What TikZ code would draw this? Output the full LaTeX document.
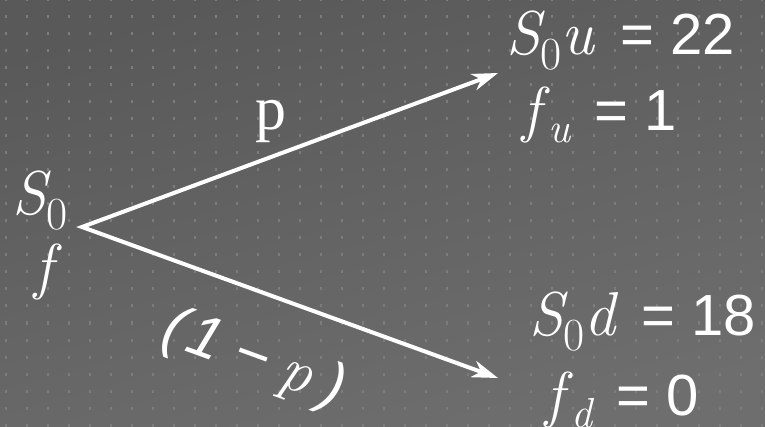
\documentclass[tikz,border=0pt]{standalone}
\usepackage{fontspec}
\setmainfont{Liberation Sans}
\newfontfamily\tms{Liberation Serif}
\newfontfamily\lmr{Latin Modern Roman}
\usetikzlibrary{arrows.meta}
\definecolor{bgtop}{HTML}{595959}
\definecolor{bgbot}{HTML}{6E6E6E}
\definecolor{dotc}{HTML}{7C7C7C}
\newcommand\myit[1]{{\fontsize{62}{62}\selectfont\lmr\itshape #1}}
\newcommand\mysubz{\raisebox{-15pt}{\fontsize{46}{46}\selectfont\lmr 0}}
\newcommand\mysubl[1]{\raisebox{-12pt}{\fontsize{42}{42}\selectfont\lmr\itshape #1}}
\tikzset{
  txt/.style={text=white, inner sep=0pt, anchor=base west, font=\fontsize{58}{60}\selectfont},
  arr/.style={draw=white, line width=4pt, line join=miter,
    {Stealth[length=26pt,width=17pt,inset=8pt]}-{Stealth[length=26pt,width=17pt,inset=8pt]}}
}
\begin{document}
\begin{tikzpicture}[x=1pt,y=-1pt]
\useasboundingbox (0,0) rectangle (765,427);
\shade[top color=bgtop, bottom color=bgbot, shading angle=15] (0,0) rectangle (765,427);
\foreach \i in {0,...,36}{
  \foreach \j in {0,...,25}{
    \fill[dotc] ({6+21*\i-1},{17*\j-1.5}) rectangle ++(2,3);
  }
}
% nodes
\node[txt] (s0) at (12,215) {\myit{S}\mysubz};
\node[txt] (f0) at (34,288) {\myit{f}};
\node[txt] (up) at (506,55) {\myit{S}\mysubz\myit{u}\hspace{10pt} = 22};
\node[txt] (fu) at (522,131) {\myit{f}\hspace{8pt}\mysubl{u}\hspace{8pt} = 1};
\node[txt] (dn) at (529,335) {\myit{S}\mysubz\myit{d}\hspace{10pt} = 18};
\node[txt] (fd) at (545,415) {\myit{f}\hspace{8pt}\mysubl{d}\hspace{8pt} = 0};
\node[txt, font=\fontsize{62}{62}\selectfont\tms] (p) at (255,130) {p};
\node[txt, rotate=-20, font=\fontsize{60}{60}\selectfont] (q) at (159,342) {\itshape(\hspace{6pt}1\hspace{16pt}−\hspace{14pt}\myit{p}\hspace{14pt})};
% connectors
\coordinate (v) at (82,227);
\coordinate (ut) at (498,73);
\coordinate (dt) at (498,378);
\draw[arr] (ut) -- (v) -- (dt);
\end{tikzpicture}
\end{document}
